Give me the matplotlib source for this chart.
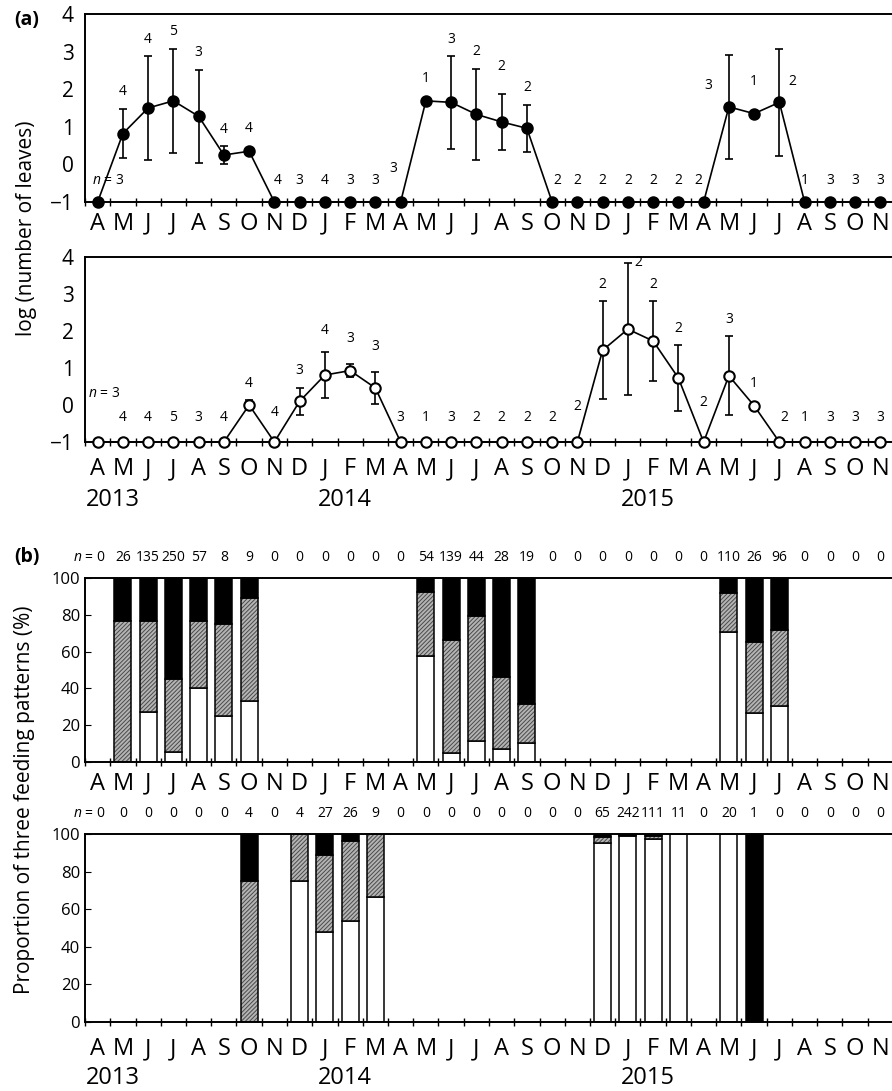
import numpy as np
import matplotlib
matplotlib.use("Agg")
import matplotlib.pyplot as plt

plt.rcParams['font.family'] = ['Open Sans', 'DejaVu Sans']
plt.rcParams['mathtext.fontset'] = 'custom'
plt.rcParams['mathtext.it'] = 'Open Sans:italic'
plt.rcParams['mathtext.rm'] = 'Open Sans'
plt.rcParams['hatch.linewidth'] = 0.7

# months from April 2013 to November 2015
months = list("AMJJASOND" + "JFMAMJJASOND" + "JFMAMJJASON")
years = ['2013', '2014', '2015']
year_start = [0, 9, 21]  # index of first month shown in each year

# (a) upper: log(number of leaves), filled symbols
leaves_a = [-1, 0.82, 1.50, 1.69, 1.28, 0.25, 0.35, -1, -1, -1, -1, -1, -1,
            1.69, 1.65, 1.33, 1.13, 0.96, -1, -1, -1, -1, -1, -1, -1,
            1.53, 1.35, 1.65, -1, -1, -1, -1]
err_a = [0, 0.66, 1.38, 1.39, 1.24, 0.23, 0, 0, 0, 0, 0, 0, 0,
         0, 1.23, 1.21, 0.75, 0.63, 0, 0, 0, 0, 0, 0, 0,
         1.39, 0, 1.42, 0, 0, 0, 0]
n_a = [3, 4, 4, 5, 3, 4, 4, 4, 3, 4, 3, 3, 3, 1, 3, 2, 2, 2, 2, 2, 2, 2, 2, 2, 2,
       3, 1, 2, 1, 3, 3, 3]

# (a) lower: open symbols
leaves_b = [-1, -1, -1, -1, -1, -1, 0.0, -1, 0.10, 0.81, 0.93, 0.46,
            -1, -1, -1, -1, -1, -1, -1, -1,
            1.48, 2.05, 1.73, 0.73, -1, 0.79, -0.02, -1, -1, -1, -1, -1]
err_b = [0, 0, 0, 0, 0, 0, 0.13, 0, 0.37, 0.61, 0.17, 0.43,
         0, 0, 0, 0, 0, 0, 0, 0,
         1.32, 1.79, 1.07, 0.88, 0, 1.07, 0, 0, 0, 0, 0, 0]
n_b = [3, 4, 4, 5, 3, 4, 4, 4, 3, 4, 3, 3, 3, 1, 3, 2, 2, 2, 2, 2, 2, 2, 2, 2, 2,
       3, 1, 2, 1, 3, 3, 3]

# (b) upper: feeding patterns (%), white / hatched / black
n_c = [0, 26, 135, 250, 57, 8, 9, 0, 0, 0, 0, 0, 0, 54, 139, 44, 28, 19,
       0, 0, 0, 0, 0, 0, 0, 110, 26, 96, 0, 0, 0, 0]
white_c = [0, 0, 27.0, 5.4, 40.4, 25, 33.3, 0, 0, 0, 0, 0, 0, 57.4, 5.0, 11.4, 7.1, 10.5,
           0, 0, 0, 0, 0, 0, 0, 70.9, 26.9, 30.2, 0, 0, 0, 0]
hatch_c = [0, 76.9, 49.5, 39.8, 36.0, 50, 55.6, 0, 0, 0, 0, 0, 0, 34.8, 61.1, 68.2, 39.3, 21.1,
           0, 0, 0, 0, 0, 0, 0, 20.9, 38.5, 41.7, 0, 0, 0, 0]
black_c = [0, 23.1, 23.5, 54.8, 23.6, 25, 11.1, 0, 0, 0, 0, 0, 0, 7.8, 33.9, 20.4, 53.6, 68.4,
           0, 0, 0, 0, 0, 0, 0, 8.2, 34.6, 28.1, 0, 0, 0, 0]

# (b) lower
n_d = [0, 0, 0, 0, 0, 0, 4, 0, 4, 27, 26, 9, 0, 0, 0, 0, 0, 0, 0, 0,
       65, 242, 111, 11, 0, 20, 1, 0, 0, 0, 0, 0]
white_d = [0, 0, 0, 0, 0, 0, 0, 0, 75, 48.1, 53.8, 66.7, 0, 0, 0, 0, 0, 0, 0, 0,
           95.4, 98.8, 97.3, 100, 0, 100, 0, 0, 0, 0, 0, 0]
hatch_d = [0, 0, 0, 0, 0, 0, 75, 0, 25, 40.7, 42.3, 33.3, 0, 0, 0, 0, 0, 0, 0, 0,
           3.1, 0.8, 1.8, 0, 0, 0, 0, 0, 0, 0, 0, 0]
black_d = [0, 0, 0, 0, 0, 0, 25, 0, 0, 11.1, 3.8, 0, 0, 0, 0, 0, 0, 0, 0, 0,
           1.5, 0.4, 0.9, 0, 0, 0, 100, 0, 0, 0, 0, 0]

W, H = 892, 1091
fig = plt.figure(figsize=(W / 100, H / 100), dpi=100)


def add_ax(left, top, right, bottom):
    return fig.add_axes([left / W, 1 - bottom / H, (right - left) / W, (bottom - top) / H])


x = np.arange(len(months)) + 0.5


def style_months(ax, pad, year_off=None):
    ax.set_xlim(0, len(months))
    ax.set_xticks(np.arange(len(months) + 1))
    ax.set_xticklabels([])
    ax.set_xticks(x, minor=True)
    ax.set_xticklabels(months, minor=True, fontsize=17)
    ax.tick_params(axis='x', which='major', direction='inout', length=6, width=1)
    ax.tick_params(axis='x', which='minor', length=0, pad=pad)
    ax.spines['right'].set_visible(False)
    for s in ['left', 'top', 'bottom']:
        ax.spines[s].set_linewidth(1.4)
    if year_off is not None:
        for yr, i0 in zip(years, year_start):
            xc = x[i0] + (0.6 if i0 == 0 else 0.8)
            ax.annotate(yr, xy=(xc, 0), xycoords=('data', 'axes fraction'),
                        xytext=(0, -year_off), textcoords='offset points',
                        ha='center', va='center', fontsize=17)


def line_panel(ax, vals, errs, ns, filled, base_y, first_lab, overrides):
    vals = np.array(vals)
    errs = np.array(errs)
    ax.plot(x, vals, color='black', lw=1.2, zorder=2, clip_on=False)
    m = errs > 0
    ax.errorbar(x[m], vals[m], yerr=errs[m], fmt='none', ecolor='black',
                elinewidth=1.2, capsize=3, capthick=1.2, zorder=2, clip_on=False)
    ax.plot(x, vals, 'o', ms=7.5, mfc='black' if filled else 'white', mec='black',
            mew=1.5, zorder=3, clip_on=False)
    ax.set_ylim(-1, 4)
    ax.set_yticks([-1, 0, 1, 2, 3, 4])
    ax.tick_params(axis='y', length=0, labelsize=15, pad=8)
    for i, n in enumerate(ns):
        if i == 0:
            ax.text(first_lab[0], first_lab[1], f'$n$ = {n}', ha='left', va='center', fontsize=10)
            continue
        if vals[i] <= -1:
            ty = base_y
        elif errs[i] > 0:
            ty = vals[i] + errs[i] + 0.45
        else:
            ty = vals[i] + 0.6
        dx, oy = overrides.get(i, (0, None))
        if oy is not None:
            ty = oy
        ax.text(x[i] + dx, ty, str(n), ha='center', va='center', fontsize=10)


def bar_panel(ax, ns, white, hatch, black):
    w = 0.67
    for i, n in enumerate(ns):
        if n == 0:
            continue
        b = 0
        for h, kind in zip([white[i], hatch[i], black[i]], ['w', 'h', 'k']):
            if h <= 0:
                continue
            if kind == 'h':
                ax.bar(x[i], h, bottom=b, width=w, color='#b4b4b4', edgecolor='#4a4a4a',
                       hatch='////////', linewidth=0)
                ax.bar(x[i], h, bottom=b, width=w, fill=False, edgecolor='black', linewidth=1.1)
            else:
                ax.bar(x[i], h, bottom=b, width=w, color='white' if kind == 'w' else 'black',
                       edgecolor='black', linewidth=1.1)
            b += h
    ax.set_ylim(0, 100)
    ax.set_yticks(range(0, 101, 20))
    ax.tick_params(axis='y', direction='in', length=4, labelsize=12)
    for i, n in enumerate(ns):
        lab = f'$n$ = {n}' if i == 0 else str(n)
        ax.annotate(lab, xy=(x[i] + (0.3 if i == 0 else 0), 1), xycoords=('data', 'axes fraction'),
                    xytext=(0, 15), textcoords='offset points',
                    ha='right' if i == 0 else 'center', va='center', fontsize=10)


ax1 = add_ax(85, 14, 893, 202)
line_panel(ax1, leaves_a, err_a, n_a, True, -0.42, (0.28, -0.42),
           {7: (0.15, None), 12: (-0.3, -0.1), 16: (0, 2.6), 18: (0.2, None),
            24: (-0.22, None), 25: (-0.8, 2.1), 26: (0, 2.2), 27: (0.5, 2.2)})
style_months(ax1, 7)

ax2 = add_ax(85, 257, 893, 442)
line_panel(ax2, leaves_b, err_b, n_b, False, -0.35, (0.12, 0.3),
           {7: (0, -0.2), 9: (0, 2.0), 10: (0, 1.79), 11: (0, 1.59), 19: (0, -0.04),
            21: (0.4, 3.85), 24: (0, 0.07), 27: (0.2, None)})
style_months(ax2, 11, 42)

ax3 = add_ax(85, 578, 893, 762)
bar_panel(ax3, n_c, white_c, hatch_c, black_c)
style_months(ax3, 7)

ax4 = add_ax(85, 834, 893, 1022)
bar_panel(ax4, n_d, white_d, hatch_d, black_d)
style_months(ax4, 11, 40)

fig.text(27 / W, 1 - 228 / H, 'log (number of leaves)', rotation=90, ha='center', va='center', fontsize=15)
fig.text(25 / W, 1 - 800 / H, 'Proportion of three feeding patterns (%)', rotation=90,
         ha='center', va='center', fontsize=15)
fig.text(14 / W, 1 - 20 / H, '(a)', fontweight='bold', fontsize=14, ha='left', va='center')
fig.text(14 / W, 1 - 557 / H, '(b)', fontweight='bold', fontsize=14, ha='left', va='center')

fig.savefig('out.png', dpi=100)
